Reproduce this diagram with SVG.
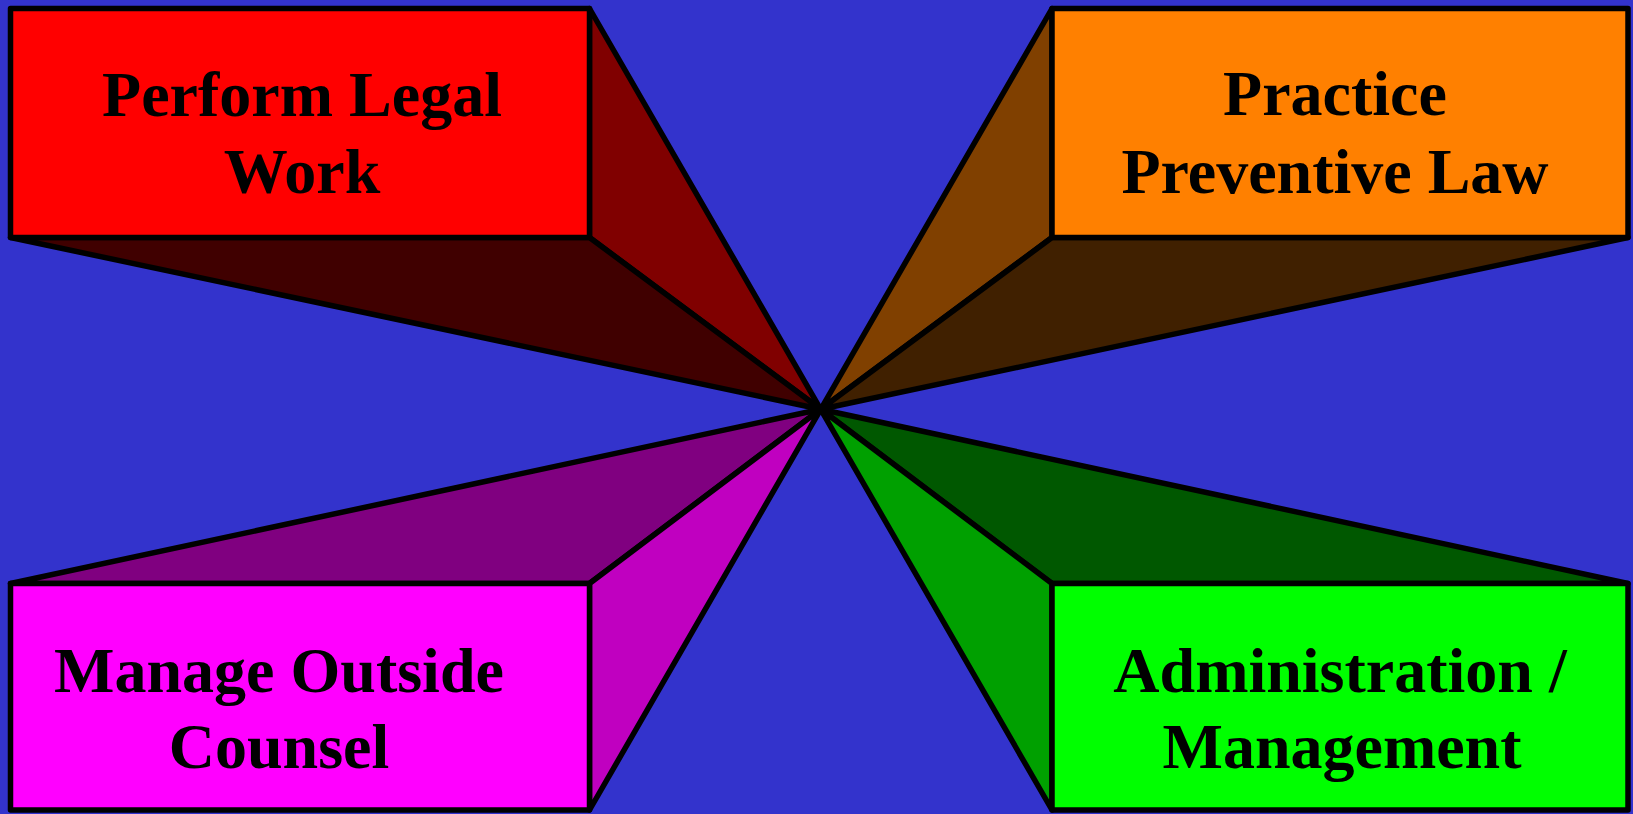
<svg xmlns="http://www.w3.org/2000/svg" width="1633" height="814" viewBox="0 0 1633 814">
<style>
.f{stroke:#000;stroke-width:5.5;stroke-linejoin:round}
.t{font-family:"Liberation Serif","Times New Roman",serif;font-weight:bold;font-size:64px;fill:#000;text-anchor:middle}
</style>
<rect width="1633" height="814" fill="#3333CC"/>
<g id="connectors">
<polygon class="f" fill="#800000" points="589.5,8.5 820.7,409.3 589.5,237.5"/>
<polygon class="f" fill="#400000" points="10.5,237.5 589.5,237.5 820.7,409.3"/>
<polygon class="f" fill="#804000" points="1052,8.5 820.7,409.3 1052,237.5"/>
<polygon class="f" fill="#402000" points="1052,237.5 1628,237.5 820.7,409.3"/>
<polygon class="f" fill="#800080" points="10.5,583.5 589.5,583.5 820.7,409.3"/>
<polygon class="f" fill="#C000C0" points="589.5,583.5 589.5,810 820.7,409.3"/>
<polygon class="f" fill="#005800" points="1052,583.5 1628,583.5 820.7,409.3"/>
<polygon class="f" fill="#00A000" points="1052,583.5 1052,810 820.7,409.3"/>
</g>
<g id="perform-legal-work">
<rect class="f" fill="#FF0000" x="10.5" y="8.5" width="579" height="229"/>
<text class="t" x="302" y="116">Perform Legal</text>
<text class="t" x="302" y="193">Work</text>
</g>
<g id="practice-preventive-law">
<rect class="f" fill="#FF8000" x="1052" y="8.5" width="576" height="229"/>
<text class="t" x="1335" y="115">Practice</text>
<text class="t" x="1335" y="193">Preventive Law</text>
</g>
<g id="manage-outside-counsel">
<rect class="f" fill="#FF00FF" x="10.5" y="583.5" width="579" height="226.5"/>
<text class="t" x="279" y="692">Manage Outside</text>
<text class="t" x="279" y="768">Counsel</text>
</g>
<g id="administration-management">
<rect class="f" fill="#00FF00" x="1052" y="583.5" width="576" height="226.5"/>
<text class="t" x="1340" y="692">Administration /</text>
<text class="t" x="1342" y="768">Management</text>
</g>
</svg>
